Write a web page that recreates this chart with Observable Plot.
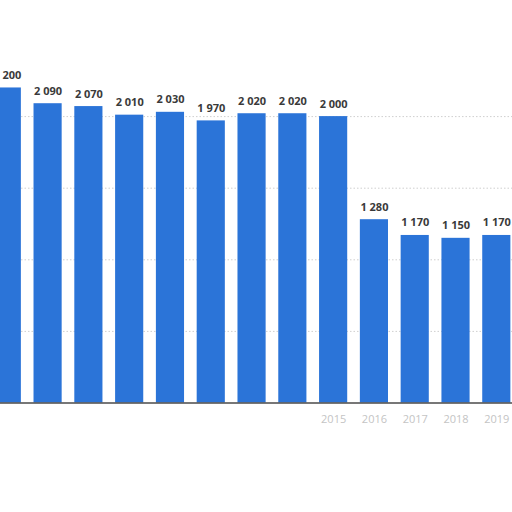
<!DOCTYPE html>
<html>
<head>
<meta charset="utf-8">
<script src="https://cdn.jsdelivr.net/npm/d3@7"></script>
<script src="https://cdn.jsdelivr.net/npm/@observablehq/plot@0.6"></script>
<style>
  html, body { margin: 0; padding: 0; background: #fff; }
  #chart { width: 512px; height: 512px; overflow: hidden; }
</style>
</head>
<body>
<div id="chart"></div>
<script>
const years = ["2007","2008","2009","2010","2011","2012","2013","2014","2015","2016","2017","2018","2019"];
const values = [2200, 2090, 2070, 2010, 2030, 1970, 2020, 2020, 2000, 1280, 1170, 1150, 1170];
const shownYearLabels = ["2015","2016","2017","2018","2019"];
const gridValues = [500, 1000, 1500, 2000];

const data = years.map((y, i) => ({year: y, value: values[i]}));
const fmt = d3.formatLocale({decimal: ".", thousands: " ", grouping: [3], currency: ["", ""]}).format(",");

const chart = Plot.plot({
  width: 512,
  height: 512,
  marginTop: 0, marginBottom: 0, marginLeft: 0, marginRight: 0,
  style: {fontFamily: "'Open Sans', 'DejaVu Sans', sans-serif", background: "#fff", overflow: "hidden"},
  x: {domain: years, range: [-13.6, 516.7], paddingInner: 0.31, paddingOuter: 0.155, round: false, axis: null, label: null},
  y: {domain: [0, 2200], range: [402.5, 402.5 - 2200 * 0.1432], axis: null, label: null},
  marks: [
    Plot.ruleY(gridValues, {stroke: "#cfcfcf", strokeDasharray: "1.5,2", strokeWidth: 1}),
    Plot.barY(data, {x: "year", y: "value", fill: "#2b74d8"}),
    Plot.text(data, {x: "year", y: "value", text: d => fmt(d.value), dy: -9, lineAnchor: "bottom",
      fill: "#3a3a3a", fontSize: 11, fontWeight: "bold"}),
    Plot.ruleY([0], {stroke: "#4a4a4a", strokeWidth: 1.5}),
    Plot.axisX({ticks: shownYearLabels, tickSize: 0, tickPadding: 12, fill: "#c4c4c4", fontSize: 11, anchor: "bottom", y: 0, label: null})
  ]
});
document.getElementById("chart").appendChild(chart);
</script>
</body>
</html>
